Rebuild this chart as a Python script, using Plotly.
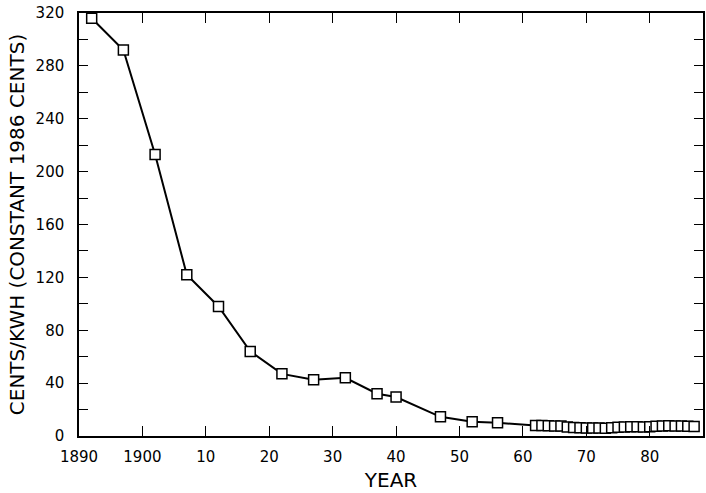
import plotly.graph_objects as go

years = [1892, 1897, 1902, 1907, 1912, 1917, 1922, 1927, 1932, 1937, 1940,
         1947, 1952, 1956,
         1962, 1963, 1964, 1965, 1966, 1967, 1968, 1969, 1970, 1971, 1972,
         1973, 1974, 1975, 1976, 1977, 1978, 1979, 1980, 1981, 1982, 1983,
         1984, 1985, 1986, 1987]
cents_per_kwh = [316, 292, 213, 122, 98, 64, 47, 42.5, 44, 32, 29.5,
                 14.5, 10.8, 10,
                 8.0, 8.0, 7.8, 7.6, 7.5, 6.8, 6.4, 6.2, 6.0, 6.0, 6.0,
                 5.9, 6.2, 6.6, 6.8, 7.0, 7.0, 6.9, 7.0, 7.3, 7.6, 7.7,
                 7.6, 7.6, 7.4, 7.2]

x_tick_vals = [1890, 1900, 1910, 1920, 1930, 1940, 1950, 1960, 1970, 1980]
x_tick_text = ["1890", "1900", "10", "20", "30", "40", "50", "60", "70", "80"]
y_tick_vals = [0, 40, 80, 120, 160, 200, 240, 280, 320]

fig = go.Figure()
fig.add_trace(go.Scatter(
    x=years, y=cents_per_kwh, mode="lines+markers",
    line=dict(color="black", width=2),
    marker=dict(symbol="square", size=10, color="white",
                line=dict(color="black", width=1.5)),
    showlegend=False, cliponaxis=False,
))

tick_font = dict(family="DejaVu Sans", size=15, color="black")
title_font = dict(family="DejaVu Sans", size=20, color="black")
fig.update_layout(
    width=706, height=493,
    margin=dict(l=79, r=3, t=13, b=57),
    paper_bgcolor="white", plot_bgcolor="white",
    font=tick_font,
    xaxis=dict(
        range=[1890, 1988.4], tickvals=x_tick_vals, ticktext=x_tick_text,
        ticks="inside", ticklen=10, tickwidth=1.2, tickcolor="black",
        showline=True, linecolor="black", linewidth=1.5, mirror="allticks",
        showgrid=False, zeroline=False, automargin=False,
        tickfont=tick_font, ticklabelstandoff=6,
        title=dict(text="YEAR", font=title_font, standoff=8),
    ),
    yaxis=dict(
        range=[0, 320], tickvals=y_tick_vals,
        ticks="inside", ticklen=9, tickwidth=1.2, tickcolor="black",
        minor=dict(dtick=20, tick0=0, ticks="inside", ticklen=9, tickwidth=1.2,
                   tickcolor="black", showgrid=False),
        showline=True, linecolor="black", linewidth=1.5, mirror="allticks",
        showgrid=False, zeroline=False, automargin=False,
        tickfont=tick_font, ticklabelstandoff=10,
        title=dict(text="CENTS/KWH (CONSTANT 1986 CENTS)", font=title_font,
                   standoff=6),
    ),
)

fig.write_html(
    "out.html",
    config={"displayModeBar": False},
    post_script="document.body.style.margin='0';document.body.style.overflow='hidden';",
)
